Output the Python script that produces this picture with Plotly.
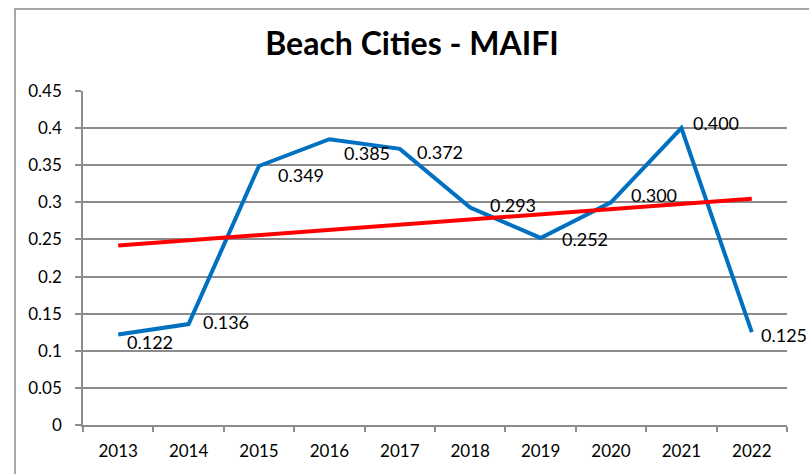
import numpy as np
import plotly.graph_objects as go

years = ["2013", "2014", "2015", "2016", "2017", "2018", "2019", "2020", "2021", "2022"]
maifi = [0.122, 0.136, 0.349, 0.385, 0.372, 0.293, 0.252, 0.300, 0.400, 0.125]
label_text = ["0.122", "0.136", "0.349", "0.385", "0.372", "0.293", "0.252", "0.300", "0.400", "0.125"]
y_ticks = [0, 0.05, 0.1, 0.15, 0.2, 0.25, 0.3, 0.35, 0.4, 0.45]
y_tick_text = ["0", "0.05", "0.1", "0.15", "0.2", "0.25", "0.3", "0.35", "0.4", "0.45"]

# label offsets in pixels (style only)
label_dx = [7, 12, 17, 13, 15, 18, 19, 18, 10, 7]
label_dy = [-8, 2, -9, -14, -3, 3, -1, 7, 5, -3]

# linear trendline fitted to the data (as Excel does)
xi = np.arange(len(maifi))
slope, intercept = np.polyfit(xi, maifi, 1)
trend = [intercept, intercept + slope * (len(maifi) - 1)]

FONT = "Lato, Carlito, Calibri, sans-serif"
GRID = "#8c8c8c"

fig = go.Figure()
fig.add_trace(go.Scatter(x=years, y=maifi, mode="lines",
                         line=dict(color="#0070C0", width=4), showlegend=False))
fig.add_trace(go.Scatter(x=[years[0], years[-1]], y=trend, mode="lines",
                         line=dict(color="#FF0000", width=4), showlegend=False))

for i, (v, t, dx, dy) in enumerate(zip(maifi, label_text, label_dx, label_dy)):
    fig.add_annotation(x=i, y=v, xref="x", yref="y", text=t, showarrow=False,
                       xanchor="left", yanchor="middle",
                       xshift=dx, yshift=dy, font=dict(family=FONT, size=18, color="#000000"))

# outer chart border
W, H = 809, 474
ml, mr, mt, mb = 83, 22, 91, 49
pw, ph = W - ml - mr, H - mt - mb
fig.add_shape(type="rect", xref="paper", yref="paper",
              x0=(15 - ml) / pw, x1=(W + 5 - ml) / pw,
              y0=-(mb + 10) / ph, y1=(H - mb - 9) / ph,
              line=dict(color="#8a8a8a", width=1.5), fillcolor="rgba(0,0,0,0)", layer="below")

fig.update_layout(
    width=W, height=H,
    margin=dict(l=ml, r=mr, t=mt, b=mb, autoexpand=False),
    paper_bgcolor="white", plot_bgcolor="white",
    title=dict(text="<b>Beach Cities - MAIFI</b>", x=412 / W, xanchor="center",
               y=1 - 44 / H, yanchor="middle", automargin=False,
               font=dict(family=FONT, size=32, color="#000000")),
    xaxis=dict(type="category", range=[-0.5, 9.5], tickson="boundaries", ticks="outside",
               ticklen=5, tickcolor=GRID, tickwidth=1.5, showline=True, linecolor=GRID, linewidth=1.5,
               showgrid=False, tickfont=dict(family=FONT, size=17, color="#000000"),
               ticklabelstandoff=10, automargin=False, fixedrange=True),
    yaxis=dict(range=[0, 0.45], tickmode="array", tickvals=y_ticks, ticktext=y_tick_text,
               ticks="outside", ticklen=6, tickcolor=GRID, tickwidth=1.5,
               showline=True, linecolor=GRID, linewidth=1.5,
               showgrid=True, gridcolor=GRID, gridwidth=1.5, zeroline=False,
               tickfont=dict(family=FONT, size=17, color="#000000"), ticklabelstandoff=10,
               automargin=False, fixedrange=True),
)

fig.write_html("out.html", config={"displayModeBar": False},
               post_script="document.body.style.margin='0px';document.body.style.overflow='hidden';")
